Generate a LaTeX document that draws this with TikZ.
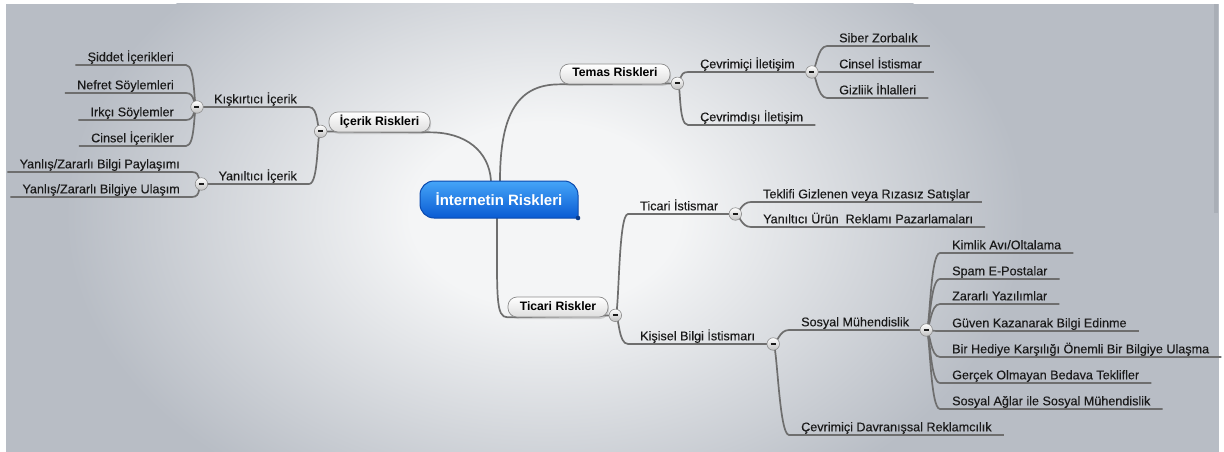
\documentclass[tikz,border=0pt]{standalone}
\usepackage{fontspec}
\setmainfont{Liberation Sans}
\newfontfamily\leaffont{Liberation Sans}[FakeBold=0.25]
\usetikzlibrary{shadows}
\definecolor{bgout}{HTML}{B8BDC5}
\definecolor{bgin}{HTML}{F4F5F6}
\definecolor{conncol}{HTML}{6E6E6E}
\definecolor{txt}{HTML}{1A1A1A}
\definecolor{blueT}{HTML}{45A5F8}
\definecolor{blueB}{HTML}{0A5BD3}
\definecolor{blueD}{HTML}{0B4AAE}
\definecolor{boxline}{HTML}{8C8C8C}
\definecolor{boxbot}{HTML}{DEDEDE}
\definecolor{btnbot}{HTML}{BFBFBF}
\definecolor{scrollc}{HTML}{A9AEB6}
\pgfdeclareradialshading{bgshade}{\pgfpoint{0bp}{0bp}}{color(0bp)=(bgin); color(7bp)=(bgin); color(25bp)=(bgout); color(50bp)=(bgout)}
\pgfdeclarelayer{back}
\pgfdeclarelayer{edges}
\pgfsetlayers{back,edges,main}
\newcommand\fs{\leaffont\fontsize{12.6}{15}\selectfont}
\newcommand\minus{\rule{5pt}{2pt}}
\newcommand\redge[2]{\draw[conn] (#1.center) .. controls +(4,0) and +(-10,0) .. (#2.south west) -- (#2.south east);}
\newcommand\ledge[2]{\draw[conn] (#1.center) .. controls +(-4,0) and +(10,0) .. (#2.south east) -- (#2.south west);}
\begin{document}
\begin{tikzpicture}[x=1pt,y=-1pt,
 conn/.style={draw=conncol, line width=1.7pt},
 leaf/.style={font=\fs, text=txt, inner xsep=12pt, inner ysep=0pt, text height=9pt, text depth=3.5pt},
 rbox/.style={draw=boxline, line width=0.7pt, rounded corners=9pt, top color=white, bottom color=boxbot,
   font=\bfseries\fontsize{12.2}{14}\selectfont, text=black, inner xsep=0pt, inner ysep=0pt,
   minimum height=20pt, text height=9pt, text depth=3pt,
   drop shadow={opacity=0.3, shadow xshift=1pt, shadow yshift=-2pt}},
 btn/.style={circle, draw=boxline, line width=0.6pt, top color=white, bottom color=btnbot,
   minimum size=12.5pt, inner sep=0pt, text=txt, font=\fs},
 rootlabel/.style={font=\bfseries\fontsize{15}{18}\selectfont, text=white, minimum width=158pt,
   minimum height=37pt, inner sep=0pt},
]
\useasboundingbox (0,0) rectangle (1224,452);
\begin{pgfonlayer}{back}
\fill[white] (0,0) rectangle (1224,452);
\fill[bgout] (6,4) rectangle (1219,452);
\begin{scope}
\clip (6,4) rectangle (1219,452);
\shade[shading=bgshade] (545,215) ellipse [x radius=480, y radius=330];
\end{scope}
\fill[scrollc] (1214,4) rectangle (1218,213);
\end{pgfonlayer}

% root
\shade[top color=blueT, bottom color=blueB, draw=blueD, line width=1pt]
  (578,218) [rounded corners=14pt] -- (420,218) -- (420,181) -- (578,181) [sharp corners] -- cycle;
\fill[blueD!80!black] (578,218) circle (2.3pt);
\node[rootlabel] (root) at (499,199.5) {İnternetin Riskleri};

% main boxes
\node[rbox, minimum width=101pt] (icerik) at (379.5,122) {İçerik Riskleri};
\node[rbox, minimum width=110pt] (temas) at (615,74) {Temas Riskleri};
\node[rbox, minimum width=100pt] (ticari) at (558,307) {Ticari Riskler};
\node[btn] (bI) at ([xshift=-8pt,yshift=1pt]icerik.south west) {\minus};
\node[btn] (bT) at ([xshift=7pt,yshift=1pt]temas.south east) {\minus};
\node[btn] (bR) at ([xshift=7pt,yshift=2pt]ticari.south east) {\minus};

% left branch
\node[leaf, anchor=south east] (kis) at (309,107) {Kışkırtıcı İçerik};
\node[leaf, anchor=south east] (yan) at (309,184) {Yanıltıcı İçerik};
\node[btn] (bKis) at ([xshift=-5pt]kis.south west) {\minus};
\node[btn] (bYan) at ([xshift=-5pt]yan.south west) {\minus};
\node[leaf, anchor=south east] (sid) at (186,65) {Şiddet İçerikleri};
\node[leaf, anchor=south east] (nef) at (186,93) {Nefret Söylemleri};
\node[leaf, anchor=south east] (irk) at (186,120) {Irkçı Söylemler};
\node[leaf, anchor=south east] (cin) at (186,146) {Cinsel İçerikler};
\node[leaf, anchor=south east] (ypay) at (192,172) {Yanlış/Zararlı Bilgi Paylaşımı};
\node[leaf, anchor=south east] (yula) at (192,197) {Yanlış/Zararlı Bilgiye Ulaşım};

% temas branch
\node[leaf, anchor=south west] (cevi) at (688,72) {Çevrimiçi İletişim};
\node[leaf, anchor=south west] (cevd) at (688,125) {Çevrimdışı İletişim};
\node[btn] (bCevi) at ([xshift=5pt]cevi.south east) {\minus};
\node[leaf, anchor=south west] (sib) at (827,46) {Siber Zorbalık};
\node[leaf, anchor=south west] (cist) at (827,72) {Cinsel İstismar};
\node[leaf, anchor=south west] (giz) at (827,98) {Gizliik İhlalleri};

% ticari branch
\node[leaf, anchor=south west] (tist) at (628,214) {Ticari İstismar};
\node[leaf, anchor=south west] (kbi) at (628,344) {Kişisel Bilgi İstismarı};
\node[btn] (bTist) at ([xshift=5pt]tist.south east) {\minus};
\node[btn] (bKbi) at ([xshift=6pt]kbi.south east) {\minus};
\node[leaf, anchor=south west] (tek) at (751,202) {Teklifi Gizlenen veya Rızasız Satışlar};
\node[leaf, anchor=south west] (yur) at (751,227) {Yanıltıcı Ürün\ \ Reklamı Pazarlamaları};
\node[leaf, anchor=south west] (smu) at (789,330) {Sosyal Mühendislik};
\node[leaf, anchor=south west] (cdr) at (789,435) {Çevrimiçi Davranışsal Reklamcılık};
\node[btn] (bSmu) at ([xshift=5pt]smu.south east) {\minus};
\node[leaf, anchor=south west] (kim) at (940,253) {Kimlik Avı/Oltalama};
\node[leaf, anchor=south west] (spam) at (940,279) {Spam E-Postalar};
\node[leaf, anchor=south west] (zar) at (940,304) {Zararlı Yazılımlar};
\node[leaf, anchor=south west] (guv) at (940,331) {Güven Kazanarak Bilgi Edinme};
\node[leaf, anchor=south west] (hed) at (940,357) {Bir Hediye Karşılığı Önemli Bir Bilgiye Ulaşma};
\node[leaf, anchor=south west] (ger) at (940,383) {Gerçek Olmayan Bedava Teklifler};
\node[leaf, anchor=south west] (sag) at (940,409) {Sosyal Ağlar ile Sosyal Mühendislik};

\begin{pgfonlayer}{edges}
\draw[conn] ([xshift=-8pt]root.north) .. controls +(-2,-30) and +(35,0) .. (icerik.south east) -- (bI.center);
\draw[conn] ([xshift=1pt]root.north) .. controls +(0,-70) and +(-40,0) .. (temas.south west) -- (bT.center);
\draw[conn] ([xshift=-2pt]root.south) .. controls +(0,80) and +(-12,0) .. (ticari.south west) -- (bR.center);

\ledge{bI}{kis} \ledge{bI}{yan}
\draw[conn] (kis.south west) -- (bKis.center);
\draw[conn] (yan.south west) -- (bYan.center);
\ledge{bKis}{sid} \ledge{bKis}{nef} \ledge{bKis}{irk} \ledge{bKis}{cin}
\ledge{bYan}{ypay} \ledge{bYan}{yula}

\redge{bT}{cevi} \redge{bT}{cevd}
\draw[conn] (cevi.south east) -- (bCevi.center);
\redge{bCevi}{sib} \redge{bCevi}{cist} \redge{bCevi}{giz}

\redge{bR}{tist} \redge{bR}{kbi}
\draw[conn] (tist.south east) -- (bTist.center);
\draw[conn] (kbi.south east) -- (bKbi.center);
\redge{bTist}{tek} \redge{bTist}{yur}
\redge{bKbi}{smu} \redge{bKbi}{cdr}
\draw[conn] (smu.south east) -- (bSmu.center);
\redge{bSmu}{kim} \redge{bSmu}{spam} \redge{bSmu}{zar} \redge{bSmu}{guv}
\redge{bSmu}{hed} \redge{bSmu}{ger} \redge{bSmu}{sag}
\end{pgfonlayer}
\end{tikzpicture}
\end{document}
